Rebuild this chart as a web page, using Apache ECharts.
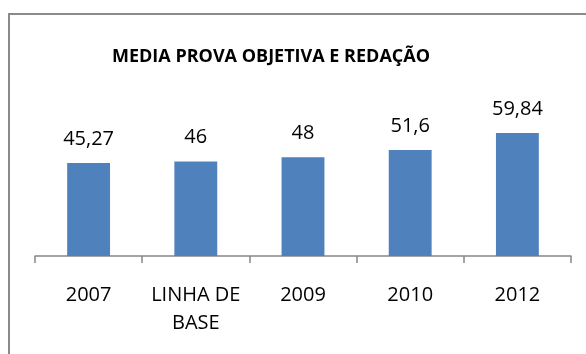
<!DOCTYPE html>
<html>
<head>
<meta charset="utf-8">
<script src="https://cdn.jsdelivr.net/npm/echarts@6/dist/echarts.min.js"></script>
<style>
  html, body { margin: 0; padding: 0; background: #ffffff; }
  #chart { width: 586px; height: 354px; }
</style>
</head>
<body>
<div id="chart"></div>
<script>
// Average score, objective test plus essay, per assessment round
const titleText = 'MEDIA PROVA OBJETIVA E REDAÇÃO';
const categories = ['2007', 'LINHA DE\nBASE', '2009', '2010', '2012'];
const averages = [45.27, 46, 48, 51.6, 59.84];

const fmt = v => String(v).replace('.', ',');

const chart = echarts.init(document.getElementById('chart'), null, { renderer: 'canvas' });
chart.setOption({
  animation: false,
  backgroundColor: '#ffffff',
  graphic: [
    {
      type: 'rect',
      shape: { x: 9, y: 14, width: 600, height: 360 },
      style: { fill: 'none', stroke: '#8a8a8a', lineWidth: 2 },
      silent: true
    },
    {
      type: 'text',
      x: 271,
      y: 57,
      style: {
        text: titleText,
        align: 'center',
        verticalAlign: 'middle',
        font: 'bold 18px "Open Sans"',
        fill: '#000000'
      },
      silent: true
    }
  ],
  grid: { left: 35, right: 15, top: 50.5, bottom: 98, containLabel: false },
  xAxis: {
    type: 'category',
    data: categories,
    axisLine: { show: true, lineStyle: { color: '#868686', width: 1.5 } },
    axisTick: { show: true, length: 7, lineStyle: { color: '#868686', width: 1.5 } },
    axisLabel: {
      color: '#000000',
      fontFamily: 'Open Sans',
      fontSize: 20,
      lineHeight: 28,
      margin: 25,
      interval: 0
    }
  },
  yAxis: {
    type: 'value',
    min: 0, max: 100,
    show: false,
    splitLine: { show: false }
  },
  series: [{
    type: 'bar',
    data: averages,
    barWidth: '40%',
    itemStyle: { color: '#4f81bd' },
    label: {
      show: true,
      position: 'top',
      distance: 14,
      color: '#000000',
      fontFamily: 'Open Sans',
      fontSize: 20,
      formatter: p => fmt(p.value)
    }
  }]
});
</script>
</body>
</html>
